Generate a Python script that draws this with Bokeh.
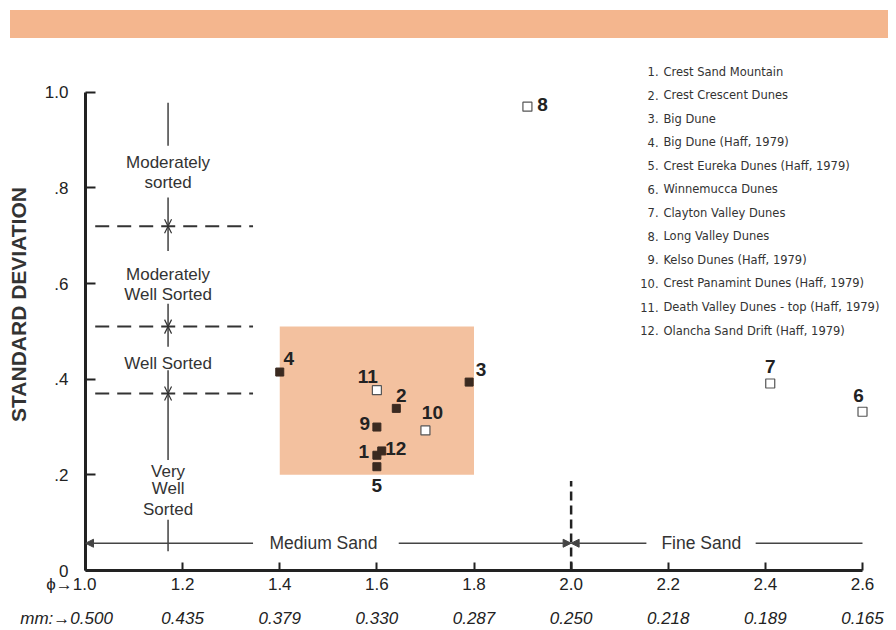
from bokeh.plotting import figure
from bokeh.layouts import column
from bokeh.models import Range1d, FixedTicker, LinearAxis, Arrow, NormalHead, OpenHead, ColumnDataSource, Div
from bokeh.core.properties import value
from bokeh.embed import file_html
from bokeh.resources import INLINE

# ---------------- data ----------------
site_ids = ["1", "2", "3", "4", "5", "6", "7", "8", "9", "10", "11", "12"]
site_names = [
    "Crest Sand Mountain",
    "Crest Crescent Dunes",
    "Big Dune",
    "Big Dune  (Haff, 1979)",
    "Crest Eureka Dunes  (Haff, 1979)",
    "Winnemucca Dunes",
    "Clayton Valley Dunes",
    "Long Valley Dunes",
    "Kelso Dunes  (Haff, 1979)",
    "Crest Panamint Dunes  (Haff, 1979)",
    "Death Valley Dunes - top  (Haff, 1979)",
    "Olancha Sand Drift  (Haff, 1979)",
]
mean_phi = [1.60, 1.64, 1.79, 1.40, 1.60, 2.60, 2.41, 1.91, 1.60, 1.70, 1.60, 1.61]
std_dev = [0.241, 0.339, 0.394, 0.415, 0.217, 0.332, 0.391, 0.970, 0.300, 0.293, 0.377, 0.250]
filled = [True, True, True, True, True, False, False, False, True, False, False, True]

phi_ticks = [1.0, 1.2, 1.4, 1.6, 1.8, 2.0, 2.2, 2.4, 2.6]
phi_labels = ["1.0", "1.2", "1.4", "1.6", "1.8", "2.0", "2.2", "2.4", "2.6"]
mm_labels = ["0.500", "0.435", "0.379", "0.330", "0.287", "0.250", "0.218", "0.189", "0.165"]
sd_ticks = [0, 0.2, 0.4, 0.6, 0.8, 1.0]
sd_labels = ["0", ".2", ".4", ".6", ".8", "1.0"]

sorting_limits = [0.37, 0.51, 0.72]
sorting_text = ["Moderately", "sorted", "Moderately", "Well Sorted", "Well Sorted", "Very", "Well", "Sorted"]
sorting_text_y = [0.853, 0.811, 0.620, 0.578, 0.432, 0.208, 0.172, 0.127]
sand_boundary = 2.0
sand_classes = ["Medium Sand", "Fine Sand"]
sand_text_x = [1.49, 2.268]
box_phi = (1.4, 1.8)
box_sd = (0.2, 0.51)

# ---------------- style ----------------
FONT = "Liberation Sans"
DARK = "#222222"
BAND = "#F4B68E"
BOX = "#F3C19F"
W = 896

# top decorative band
band = Div(text='<div style="width:878px;height:28px;background:%s;"></div>' % BAND,
           width=878, height=28, margin=(10, 0, 0, 10))

p = figure(width=W, height=592, x_range=Range1d(1.0, 2.670), y_range=Range1d(0, 1.1125),
           output_backend="svg", toolbar_location=None, outline_line_color=None,
           min_border_left=85, min_border_right=0, min_border_top=0, min_border_bottom=58)
p.grid.visible = False

# y axis
yax = p.yaxis[0]
yax.ticker = FixedTicker(ticks=sd_ticks)
yax.major_label_overrides = {t: l for t, l in zip(sd_ticks, sd_labels)}
yax.bounds = (0, 1.0)
yax.axis_line_width = 3
yax.axis_line_color = DARK
yax.major_tick_in = 10
yax.major_tick_out = 0
yax.major_tick_line_width = 2
yax.major_tick_line_color = DARK
yax.minor_tick_line_color = None
yax.major_label_standoff = 17
yax.major_label_text_font = FONT
yax.major_label_text_font_size = "17px"
yax.major_label_text_color = DARK
yax.axis_label = "STANDARD DEVIATION"
yax.axis_label_text_font = FONT
yax.axis_label_text_font_style = "bold"
yax.axis_label_text_font_size = "21px"
yax.axis_label_text_color = "#333333"
yax.axis_label_standoff = 12

# x axis (phi)
xax = p.xaxis[0]
xax.ticker = FixedTicker(ticks=phi_ticks)
ph_over = {t: l for t, l in zip(phi_ticks, phi_labels)}
ph_over[phi_ticks[0]] = "\u03d5\u2192" + phi_labels[0] + "\u2007" * 3
xax.major_label_overrides = ph_over
xax.bounds = (1.0, 2.6)
xax.axis_line_width = 3
xax.axis_line_color = DARK
xax.major_tick_in = 8
xax.major_tick_out = 0
xax.major_tick_line_width = 2
xax.major_tick_line_color = DARK
xax.minor_tick_line_color = None
xax.major_label_standoff = 4
xax.major_label_text_font = FONT
xax.major_label_text_font_size = "17px"
xax.major_label_text_color = DARK

# second x axis (mm)
mm_over = {t: l for t, l in zip(phi_ticks, mm_labels)}
mm_over[phi_ticks[0]] = "mm:\u2192" + mm_labels[0] + "\u2007" * 4
mmax = LinearAxis(ticker=FixedTicker(ticks=phi_ticks), major_label_overrides=mm_over,
                  axis_line_color=None, major_tick_line_color=None, minor_tick_line_color=None,
                  major_label_standoff=6, major_label_text_font=FONT,
                  major_label_text_font_size="17px", major_label_text_font_style="italic",
                  major_label_text_color=DARK, bounds=(1.0, 2.6))
p.add_layout(mmax, "below")

# shaded box
p.quad(left=[box_phi[0]], right=[box_phi[1]], bottom=[box_sd[0]], top=[box_sd[1]],
       fill_color=BOX, line_color=None)

# sorting limits (dashed)
p.segment(x0=[1.02] * len(sorting_limits), x1=[1.345] * len(sorting_limits),
          y0=sorting_limits, y1=sorting_limits, line_dash="14 8", line_width=2, line_color="#333333")

# sorting column vertical lines and arrows
CX = 1.17
p.segment(x0=[CX, CX], x1=[CX, CX], y0=[0.978, 0.106], y1=[0.888, 0.04],
          line_width=1.4, line_color="#333333")
arrow_pairs = [(0.78, sorting_limits[2]), (0.668, sorting_limits[2]),
               (0.558, sorting_limits[1]), (0.468, sorting_limits[1]),
               (0.419, sorting_limits[0]), (0.231, sorting_limits[0])]
for ys, ye in arrow_pairs:
    p.add_layout(Arrow(end=OpenHead(size=7, line_width=1.2, line_color="#333333"),
                       x_start=CX, y_start=ys, x_end=CX, y_end=ye,
                       line_width=1.4, line_color="#333333"))
p.text(x=[CX] * len(sorting_text), y=sorting_text_y, text=sorting_text,
       text_align="center", text_baseline="middle", text_font=value(FONT),
       text_font_size="17px", text_color="#333333")

# sand size classes
SY = 0.057
p.segment(x0=[sand_boundary], x1=[sand_boundary], y0=[0], y1=[0.187],
          line_dash="9 5", line_width=2.5, line_color=DARK)
for xs, xe in [(1.345, 1.0), (1.645, 2.0), (2.155, 2.0)]:
    p.add_layout(Arrow(end=NormalHead(size=8, fill_color="#444444", line_color="#444444"),
                       x_start=xs, y_start=SY, x_end=xe, y_end=SY,
                       line_width=1.5, line_color="#444444"))
p.segment(x0=[2.38], x1=[2.6], y0=[SY], y1=[SY], line_width=1.5, line_color="#444444")
p.text(x=sand_text_x, y=[SY, SY], text=sand_classes, text_align="center", text_baseline="middle",
       text_font=value(FONT), text_font_size="17.5px", text_color="#333333")

# points
fx = [x for x, f in zip(mean_phi, filled) if f]
fy = [y for y, f in zip(std_dev, filled) if f]
ox = [x for x, f in zip(mean_phi, filled) if not f]
oy = [y for y, f in zip(std_dev, filled) if not f]
p.scatter(fx, fy, marker="square", size=8, fill_color="#3a2a20", line_color="#3a2a20")
p.scatter(ox, oy, marker="square", size=9, fill_color="white", line_color="#555555", line_width=1.2)

# point number labels
lab_dx = [-13, 5, 12, 9, 0, -4, 0, 15, -12, 7, -9, 14]
lab_dy = [-4, -13, -13, -14, 19, -16, -17, -2, -4, -18, -14, -2]
lab_src = ColumnDataSource(dict(x=mean_phi, y=std_dev, t=site_ids, dx=lab_dx, dy=lab_dy))
p.text(x="x", y="y", text="t", x_offset="dx", y_offset="dy", source=lab_src,
       text_align="center", text_baseline="middle", text_font=value(FONT),
       text_font_style="bold", text_font_size="19px", text_color=DARK)

# legend list
LEG_TOP = 1.043
LEG_STEP = 0.0492
leg_y = [LEG_TOP - i * LEG_STEP for i in range(len(site_ids))]
p.text(x=[2.18] * len(site_ids), y=leg_y, text=[s + "." for s in site_ids],
       text_align="right", text_baseline="middle", text_font=value("DejaVu Sans"),
       text_font_size="11.5px", text_color="#333333")
p.text(x=[2.19] * len(site_ids), y=leg_y, text=site_names,
       text_align="left", text_baseline="middle", text_font=value("DejaVu Sans"),
       text_font_size="11.5px", text_color="#333333")

layout = column(band, p)
open("out.html", "w").write(file_html(layout, INLINE))
